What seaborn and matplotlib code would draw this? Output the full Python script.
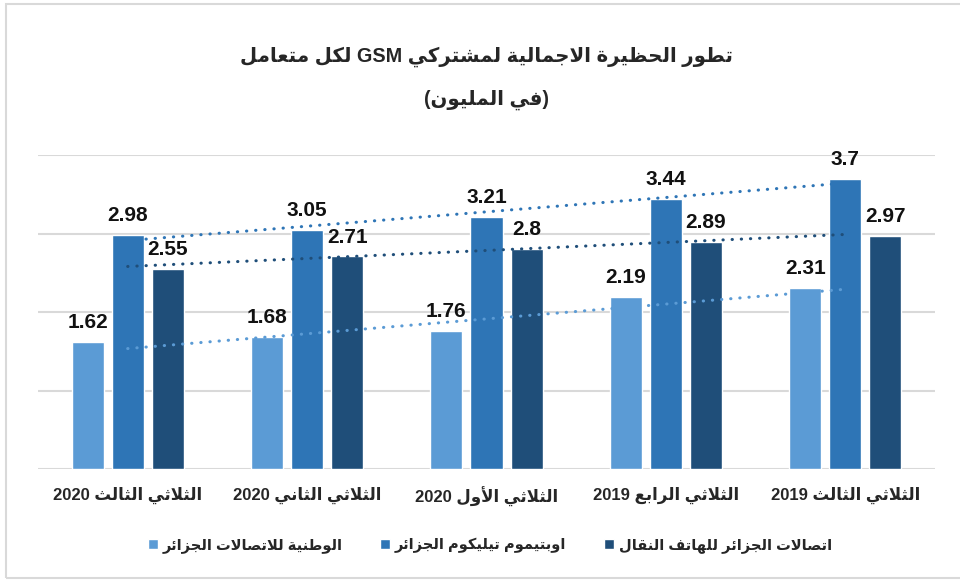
import re
import seaborn as sns
import matplotlib.pyplot as plt
import matplotlib.patches as mpatches
import pandas as pd
import numpy as np

# data (display order left -> right)
quarters = ['الثلاثي الثالث 2020', 'الثلاثي الثاني 2020', 'الثلاثي الأول 2020',
            'الثلاثي الرابع 2019', 'الثلاثي الثالث 2019']
operators = ['الوطنية للاتصالات الجزائر', 'اوبتيموم تيليكوم الجزائر',
             'اتصالات الجزائر للهاتف النقال']
ooredoo = [1.62, 1.68, 1.76, 2.19, 2.31]
djezzy = [2.98, 3.05, 3.21, 3.44, 3.7]
mobilis = [2.55, 2.71, 2.8, 2.89, 2.97]
colors = ['#5B9BD5', '#2E75B6', '#1F4E79']
title = 'تطور الحظيرة الاجمالية لمشتركي GSM لكل متعامل'
subtitle = '(في المليون)'

# small arabic shaper, matplotlib has no bidi / joining support
FORMS = {'ء': (0xFE80, 1), 'آ': (0xFE81, 2), 'أ': (0xFE83, 2), 'ؤ': (0xFE85, 2),
         'إ': (0xFE87, 2), 'ئ': (0xFE89, 4), 'ا': (0xFE8D, 2), 'ب': (0xFE8F, 4),
         'ة': (0xFE93, 2), 'ت': (0xFE95, 4), 'ث': (0xFE99, 4), 'ج': (0xFE9D, 4),
         'ح': (0xFEA1, 4), 'خ': (0xFEA5, 4), 'د': (0xFEA9, 2), 'ذ': (0xFEAB, 2),
         'ر': (0xFEAD, 2), 'ز': (0xFEAF, 2), 'س': (0xFEB1, 4), 'ش': (0xFEB5, 4),
         'ص': (0xFEB9, 4), 'ض': (0xFEBD, 4), 'ط': (0xFEC1, 4), 'ظ': (0xFEC5, 4),
         'ع': (0xFEC9, 4), 'غ': (0xFECD, 4), 'ف': (0xFED1, 4), 'ق': (0xFED5, 4),
         'ك': (0xFED9, 4), 'ل': (0xFEDD, 4), 'م': (0xFEE1, 4), 'ن': (0xFEE5, 4),
         'ه': (0xFEE9, 4), 'و': (0xFEED, 2), 'ى': (0xFEEF, 2), 'ي': (0xFEF1, 4)}
LAM_ALEF = {'آ': 0xFEF5, 'أ': 0xFEF7, 'إ': 0xFEF9, 'ا': 0xFEFB}


def shape(text):
    toks = []
    i = 0
    while i < len(text):
        if text[i] == 'ل' and i + 1 < len(text) and text[i + 1] in LAM_ALEF:
            toks.append(('la', LAM_ALEF[text[i + 1]]))
            i += 2
        else:
            toks.append(('c', text[i]))
            i += 1

    def dual(t):
        return t[0] == 'c' and t[1] in FORMS and FORMS[t[1]][1] == 4

    def letter(t):
        return t[0] == 'la' or (t[1] in FORMS and t[1] != 'ء')

    out = []
    for k, t in enumerate(toks):
        prev_j = k > 0 and dual(toks[k - 1])
        if t[0] == 'la':
            out.append(chr(t[1] + (1 if prev_j else 0)))
            continue
        c = t[1]
        if c not in FORMS:
            out.append(c)
            continue
        base, n = FORMS[c]
        if n == 1:
            out.append(chr(base))
            continue
        next_j = n == 4 and k + 1 < len(toks) and letter(toks[k + 1])
        off = 3 if (prev_j and next_j) else 1 if prev_j else 2 if next_j else 0
        out.append(chr(base + off))
    return ''.join(out)


def rtl(text):
    s = shape(text)[::-1]
    s = re.sub(r'[0-9A-Za-z.]+', lambda m: m.group(0)[::-1], s)
    return s.translate(str.maketrans('()', ')('))


shown_q = [rtl(q) for q in quarters]
shown_op = [rtl(o) for o in operators]
df = pd.DataFrame({
    'quarter': shown_q * 3,
    'operator': [shown_op[0]] * 5 + [shown_op[1]] * 5 + [shown_op[2]] * 5,
    'value': ooredoo + djezzy + mobilis,
})

sns.set_style('white')
plt.rcParams['font.family'] = ['Liberation Sans', 'DejaVu Sans']

fig = plt.figure(figsize=(9.6, 5.82), dpi=100)
ax = fig.add_axes([38 / 960, 1 - 469 / 582, 897 / 960, 314 / 582])

sns.barplot(data=df, x='quarter', y='value', hue='operator', order=shown_q,
            hue_order=shown_op, palette=colors, width=0.67, gap=0.2,
            saturation=1, errorbar=None, ax=ax, zorder=2)

for cont in ax.containers:
    ax.bar_label(cont, fmt='{:g}', padding=7, fontsize=15, fontweight='bold',
                 color='#111111')

# linear trendlines like excel
xs = np.arange(len(quarters))
for vals, col in zip([ooredoo, djezzy, mobilis], colors):
    k, b = np.polyfit(xs, vals, 1)
    ax.plot([xs[0], xs[-1]], [k * xs[0] + b, k * xs[-1] + b], color=col, lw=2.2,
            linestyle=(0, (0.1, 2.9)), dash_capstyle='round', zorder=4)

ax.set_ylim(0, 4)
ax.set_xlim(-0.5, 4.5)
ax.set_yticks([0, 1, 2, 3, 4])
ax.set_yticklabels([])
ax.yaxis.grid(True, color='#D9D9D9', lw=1.5, zorder=0)
ax.set_axisbelow(True)
for sp in ax.spines.values():
    sp.set_visible(False)
ax.tick_params(axis='both', length=0)
ax.tick_params(axis='x', pad=13, labelsize=12)
for lbl in ax.get_xticklabels():
    lbl.set_fontweight('bold')
ax.set_xlabel('')
ax.set_ylabel('')

handles, labels = ax.get_legend_handles_labels()
ax.legend_.remove()
fig.legend(handles, labels, loc='center', bbox_to_anchor=(0.51, 1 - 545 / 582),
           ncol=3, frameon=False, handlelength=0.7, handleheight=0.7,
           handletextpad=0.3, columnspacing=2.6,
           prop={'size': 10.5, 'weight': 'bold'})

fig.text(0.507, 1 - 57 / 582, rtl(title), ha='center', va='center',
         fontsize=14.2, fontweight='bold')
fig.text(0.507, 1 - 100 / 582, rtl(subtitle), ha='center', va='center',
         fontsize=14.2, fontweight='bold')

fig.patches.append(mpatches.Rectangle((6 / 960, 4 / 582), 1.0, 574 / 582,
                                      transform=fig.transFigure, fill=False,
                                      edgecolor='#D9D9D9', lw=1.5))

fig.savefig('out.png', dpi=100)
